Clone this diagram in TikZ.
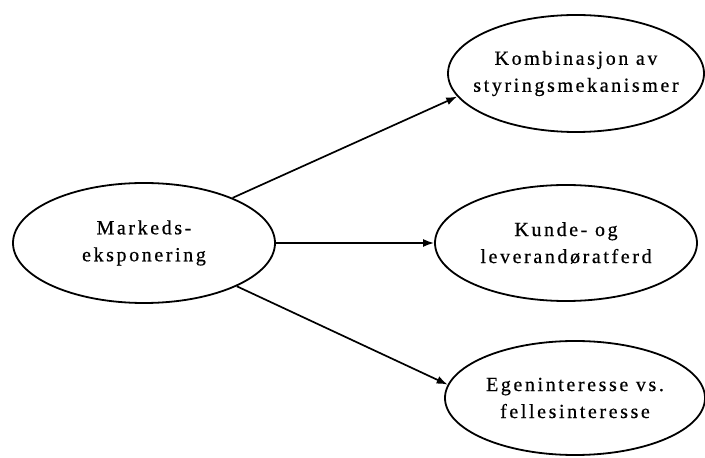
\documentclass[tikz,border=0pt]{standalone}
\usepackage{fontspec}
\setmainfont{Liberation Serif}[LetterSpace=13,FakeBold=0.6]
\usetikzlibrary{shapes.geometric,arrows.meta}

\begin{document}
\begin{tikzpicture}[x=1pt,y=1pt,every node/.style={font=\fontsize{20}{27}\selectfont},
  oval/.style={draw,ellipse,line width=1.8pt,inner ysep=0pt,inner xsep=-60pt,align=center},
  arr/.style={-{Latex[length=11pt,width=8pt]},line width=1.7pt}]
\useasboundingbox (0,0) rectangle (705,458);
\node[oval,minimum width=262pt,minimum height=120pt] (mkt) at (144,215) {Markeds-\\eksponering};
\node[oval,minimum width=256pt,minimum height=117pt] (komb) at (576,384.5) {Kombinasjon av\\styringsmekanismer};
\node[oval,minimum width=262pt,minimum height=116pt] (kunde) at (566,215) {Kunde- og\\leverandøratferd};
\node[oval,minimum width=260pt,minimum height=114pt] (egen) at (575,60) {Egeninteresse vs.\\fellesinteresse};
\draw[arr] (mkt.27)--(komb.191);
\draw[arr] (mkt.east)--(kunde.west);
\draw[arr] (mkt.335)--(egen.174);
\end{tikzpicture}
\end{document}
